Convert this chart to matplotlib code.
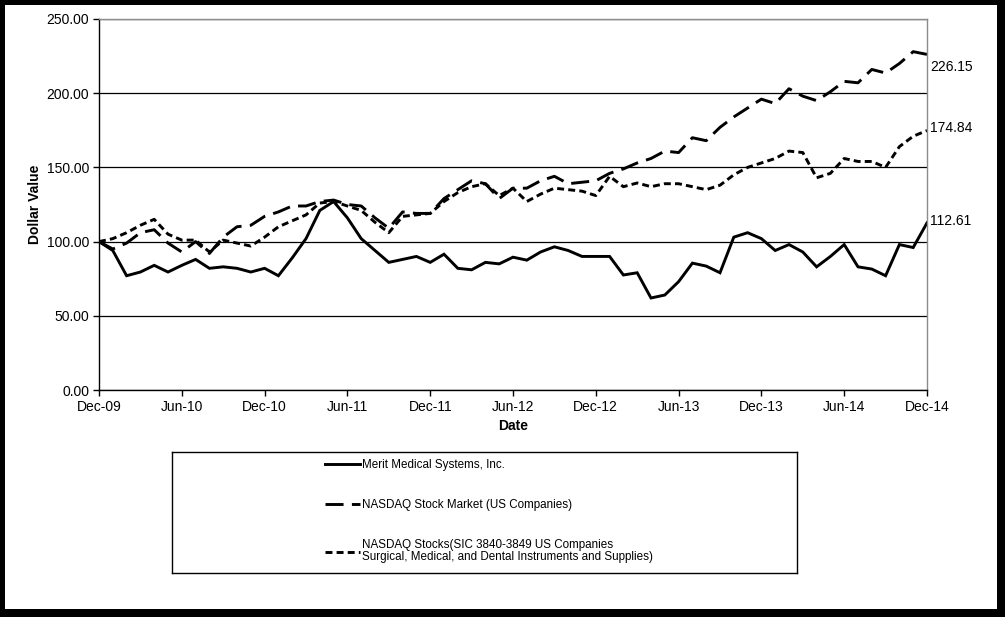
import matplotlib
matplotlib.use("Agg")
import matplotlib.pyplot as plt
from matplotlib.patches import Rectangle
import numpy as np

# ---------------- data ----------------
tick_labels = ["Dec-09", "Jun-10", "Dec-10", "Jun-11", "Dec-11", "Jun-12",
               "Dec-12", "Jun-13", "Dec-13", "Jun-14", "Dec-14"]

merit = [100, 94, 77, 79.5, 84, 79.5, 84, 88, 82, 83,
         82, 79.5, 82, 77, 89, 102, 121, 127, 116, 102,
         94, 86, 88, 90, 86, 91.5, 82, 81, 86, 85,
         89.5, 87.5, 93, 96.5, 94, 90, 90, 90, 77.5, 79,
         62, 64, 73, 85.5, 83.5, 79, 103, 106, 102, 94,
         98, 93, 83, 90, 98, 83, 81.5, 77, 98, 96,
         112.61]

nasdaq_market = [100, 95, 99, 106, 108, 99, 93, 100, 92, 103,
                 110, 111, 117, 120, 124, 124, 127, 128, 125, 124,
                 116, 109, 120, 119, 119, 129, 135, 141, 139, 129,
                 136, 136, 141, 144, 139, 140, 141, 146, 149, 153,
                 156, 161, 160, 170, 168, 177, 184, 190, 196, 193,
                 203, 198, 195, 201, 208, 207, 216, 213.6, 220, 228,
                 226.15]

nasdaq_sic = [100, 102, 106, 111, 115, 105, 101, 101, 93, 101,
              99, 97, 103, 110, 114, 118, 126, 127, 124, 121,
              113, 106, 117, 118, 119, 127, 133, 137, 139, 131,
              136, 127, 132, 136, 135, 134, 131, 144, 137, 139.5,
              137, 139, 139, 137, 135, 138, 145, 150, 153, 156,
              161, 160, 143, 146, 156, 154, 154, 150, 164, 171,
              174.84]

series_names = ["Merit Medical Systems, Inc.",
                "NASDAQ Stock Market (US Companies)",
                "NASDAQ Stocks(SIC 3840-3849 US Companies\nSurgical, Medical, and Dental Instruments and Supplies)"]
end_labels = ["112.61", "226.15", "174.84"]

# ---------------- figure ----------------
plt.rcParams["font.family"] = ["Liberation Sans", "DejaVu Sans"]
plt.rcParams["lines.scale_dashes"] = False

W, H = 1005, 617
fig = plt.figure(figsize=(W / 100, H / 100), dpi=100, facecolor="black")
# white inner page with black frame
fig.patches.append(Rectangle((5 / W, 8 / H), 992 / W, 604 / H,
                             transform=fig.transFigure, facecolor="white",
                             edgecolor="none", zorder=-10))

ax = fig.add_axes([99 / W, (H - 390) / H, 828 / W, 371 / H])
ax.set_facecolor("white")

x = np.arange(len(merit))
lw = 2.1
l1, = ax.plot(x, merit, color="black", lw=lw, solid_joinstyle="miter")
l2, = ax.plot(x, nasdaq_market, color="black", lw=lw, dashes=(13, 6))
l3, = ax.plot(x, nasdaq_sic, color="black", lw=lw, dashes=(5, 3))

ax.set_xlim(0, len(merit) - 1)
ax.set_ylim(0, 250)
ax.set_yticks(np.arange(0, 251, 50))
ax.set_yticklabels([f"{v:.2f}" for v in np.arange(0, 251, 50)])
ax.set_xticks(np.arange(0, len(merit), 6))
ax.set_xticklabels(tick_labels)

ax.yaxis.grid(True, color="black", lw=0.9)
ax.set_axisbelow(True)
for s in ["top", "right"]:
    ax.spines[s].set_color("#8c8c8c")
    ax.spines[s].set_linewidth(1.0)
for s in ["left", "bottom"]:
    ax.spines[s].set_color("black")
    ax.spines[s].set_linewidth(1.0)

ax.tick_params(axis="both", direction="out", length=4, width=1.0,
               labelsize=10, colors="black", pad=3)

ax.set_xlabel("Date", fontsize=10, fontweight="bold", labelpad=4)
ax.set_ylabel("Dollar Value", fontsize=10, fontweight="bold", labelpad=3)

# end-value labels
ends = [merit[-1], nasdaq_market[-1], nasdaq_sic[-1]]
offsets = [1, -9, 2]
for val, txt, off in zip(ends, end_labels, offsets):
    ax.annotate(txt, xy=(x[-1], val), xytext=(2, off), textcoords="offset points",
                fontsize=10, ha="left", va="center", annotation_clip=False)

# legend box
lax = fig.add_axes([172 / W, (H - 573) / H, 625 / W, 121 / H])
lax.set_xticks([])
lax.set_yticks([])
for s in lax.spines.values():
    s.set_color("black")
    s.set_linewidth(1.0)
leg = lax.legend([l1, l2, l3], series_names, loc="upper left",
                 bbox_to_anchor=(0.245, 0.94), frameon=False, fontsize=8.4,
                 handlelength=2.95, handletextpad=0.25, labelspacing=2.4,
                 borderpad=0, borderaxespad=0)
for t in leg.get_texts():
    t.set_linespacing(1.0)

fig.savefig("out.png", dpi=100, facecolor=fig.get_facecolor())
